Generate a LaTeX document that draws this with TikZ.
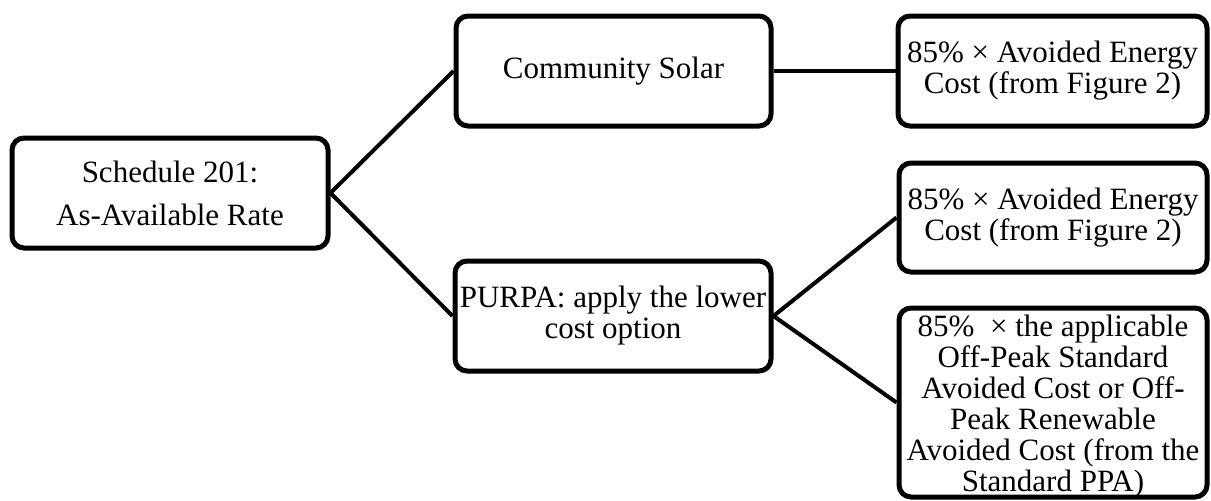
\documentclass[tikz,border=0pt]{standalone}
\usepackage{fontspec}
\setmainfont{Liberation Serif}
\begin{document}
\begin{tikzpicture}[x=1pt,y=-1pt,
  box/.style={draw, line width=5pt, rounded corners=12pt, inner sep=0pt, align=center,
    font=\fontsize{31}{31}\selectfont},
  txt/.style={inner sep=0pt, align=center, font=\fontsize{31}{31}\selectfont},
  link/.style={line width=4pt}]
\useasboundingbox (0,0) rectangle (1211,501);
\node[box, minimum width=316pt, minimum height=110pt] (root) at (170,193) {Schedule 201:\\[12pt]As-Available Rate};
\node[box, minimum width=315pt, minimum height=110pt] (cs) at (613.5,71) {Community Solar};
\node[box, minimum width=316pt, minimum height=110pt] (purpa) at (613,316) {PURPA: apply the lower\\cost option};
\node[box, minimum width=309pt, minimum height=110pt] (r1) at (1052.5,71) {85\% × Avoided Energy\\Cost (from Figure 2)};
\node[box, minimum width=308pt, minimum height=109pt] (r2) at (1053,217.5) {85\% × Avoided Energy\\Cost (from Figure 2)};
\node[box, minimum width=308pt, minimum height=189pt] (r3) at (1053,402.5) {};
\node[txt] (r3t) at ([yshift=-4pt]r3.center) {85\%~ × the applicable\\Off-Peak Standard\\Avoided Cost or Off-\\Peak Renewable\\Avoided Cost (from the\\Standard PPA)};
\draw[link] (root.east) -- (cs.west);
\draw[link] (root.east) -- (purpa.west);
\draw[link] (cs.east) -- (r1.west);
\draw[link] (purpa.east) -- (r2.west);
\draw[link] (purpa.east) -- (r3.west);
\end{tikzpicture}
\end{document}
